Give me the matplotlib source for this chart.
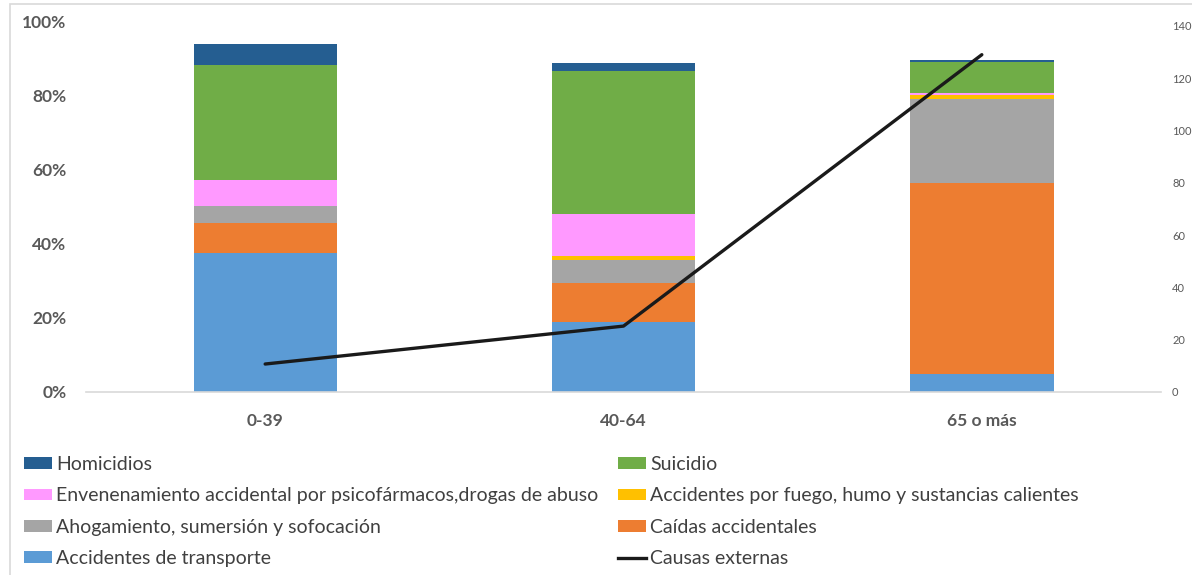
import numpy as np
import matplotlib.pyplot as plt
from matplotlib.patches import Rectangle
from matplotlib.lines import Line2D
from matplotlib.ticker import FuncFormatter

# age groups and share (%) of each external cause, stacked bottom to top
grupos = ["0-39", "40-64", "65 o más"]

transporte = [37.6, 19.0, 5.0]
caidas = [8.2, 10.4, 51.4]
ahogamiento = [4.5, 6.3, 22.8]
fuego = [0.0, 1.1, 1.0]
envenenamiento = [7.1, 11.3, 0.5]
suicidio = [30.9, 38.7, 8.5]
homicidios = [5.7, 2.0, 0.5]

# total external causes (right axis)
causas_externas = [10.7, 25.2, 129.0]

series = [
    ("Accidentes de transporte", transporte, "#5B9BD5"),
    ("Caídas accidentales", caidas, "#ED7D31"),
    ("Ahogamiento, sumersión y sofocación", ahogamiento, "#A5A5A5"),
    ("Accidentes por fuego, humo y sustancias calientes", fuego, "#FFC000"),
    ("Envenenamiento accidental por psicofármacos,drogas de abuso", envenenamiento, "#FF99FF"),
    ("Suicidio", suicidio, "#70AD47"),
    ("Homicidios", homicidios, "#255E91"),
]

plt.rcParams['font.family'] = ['Lato', 'DejaVu Sans']
tick_color = "#595959"

fig = plt.figure(figsize=(11.92, 5.75), dpi=100)
ax = fig.add_axes([86 / 1192, 1 - 392 / 575, (1161 - 86) / 1192, (392 - 22) / 575])

x = np.arange(len(grupos))
bottom = np.zeros(len(grupos))
handles = {}
for name, vals, color in series:
    vals = np.array(vals) / 100
    b = ax.bar(x, vals, 0.4, bottom=bottom, color=color, label=name, zorder=2)
    handles[name] = b
    bottom += vals

ax.set_xlim(-0.5, 2.5)
ax.set_ylim(0, 1)
ax.set_yticks(np.arange(0, 1.01, 0.2))
ax.yaxis.set_major_formatter(FuncFormatter(lambda v, p: f"{v * 100:.0f}%"))
ax.set_xticks(x)
ax.set_xticklabels(grupos)
for lab in ax.get_xticklabels() + ax.get_yticklabels():
    lab.set_fontweight("bold")
    lab.set_fontsize(12.5)
    lab.set_color(tick_color)
ax.tick_params(axis="y", length=0, pad=14)
ax.tick_params(axis="x", length=0, pad=15)
for s in ["top", "left", "right"]:
    ax.spines[s].set_visible(False)
ax.spines["bottom"].set_color("#D9D9D9")
ax.spines["bottom"].set_linewidth(1.2)

# line on secondary axis
ax2 = ax.twinx()
ax2.plot(x, causas_externas, color="#1A1A1A", lw=2.4, solid_capstyle="round", zorder=3)
ax2.set_ylim(0, 141.5)
ax2.set_yticks(np.arange(0, 141, 20))
ax2.tick_params(axis="y", length=0, pad=8, labelsize=8, labelcolor=tick_color)
for s in ax2.spines.values():
    s.set_visible(False)

# chart frame
fig.patches.append(Rectangle((10 / 1192, -0.1), 1.2, 1.1 - 4 / 575, fill=False,
                             edgecolor="#D9D9D9", lw=1.2, transform=fig.transFigure))

# legend in two columns
line_handle = Line2D([], [], color="#1A1A1A", lw=2.4)
left_names = ["Homicidios",
              "Envenenamiento accidental por psicofármacos,drogas de abuso",
              "Ahogamiento, sumersión y sofocación",
              "Accidentes de transporte"]
right_names = ["Suicidio",
               "Accidentes por fuego, humo y sustancias calientes",
               "Caídas accidentales"]

leg_kw = dict(frameon=False, fontsize=14, labelcolor="#404040", handlelength=1.45,
              handleheight=0.55, handletextpad=0.2, labelspacing=0.74,
              borderaxespad=0, borderpad=0, loc="upper left")
fig.legend([handles[n] for n in left_names], left_names,
           bbox_to_anchor=(24 / 1192, 1 - 456 / 575), **leg_kw)
fig.legend([handles[n] for n in right_names] + [line_handle],
           right_names + ["Causas externas"],
           bbox_to_anchor=(618 / 1192, 1 - 456 / 575), **leg_kw)

fig.savefig("out.png", dpi=100)
